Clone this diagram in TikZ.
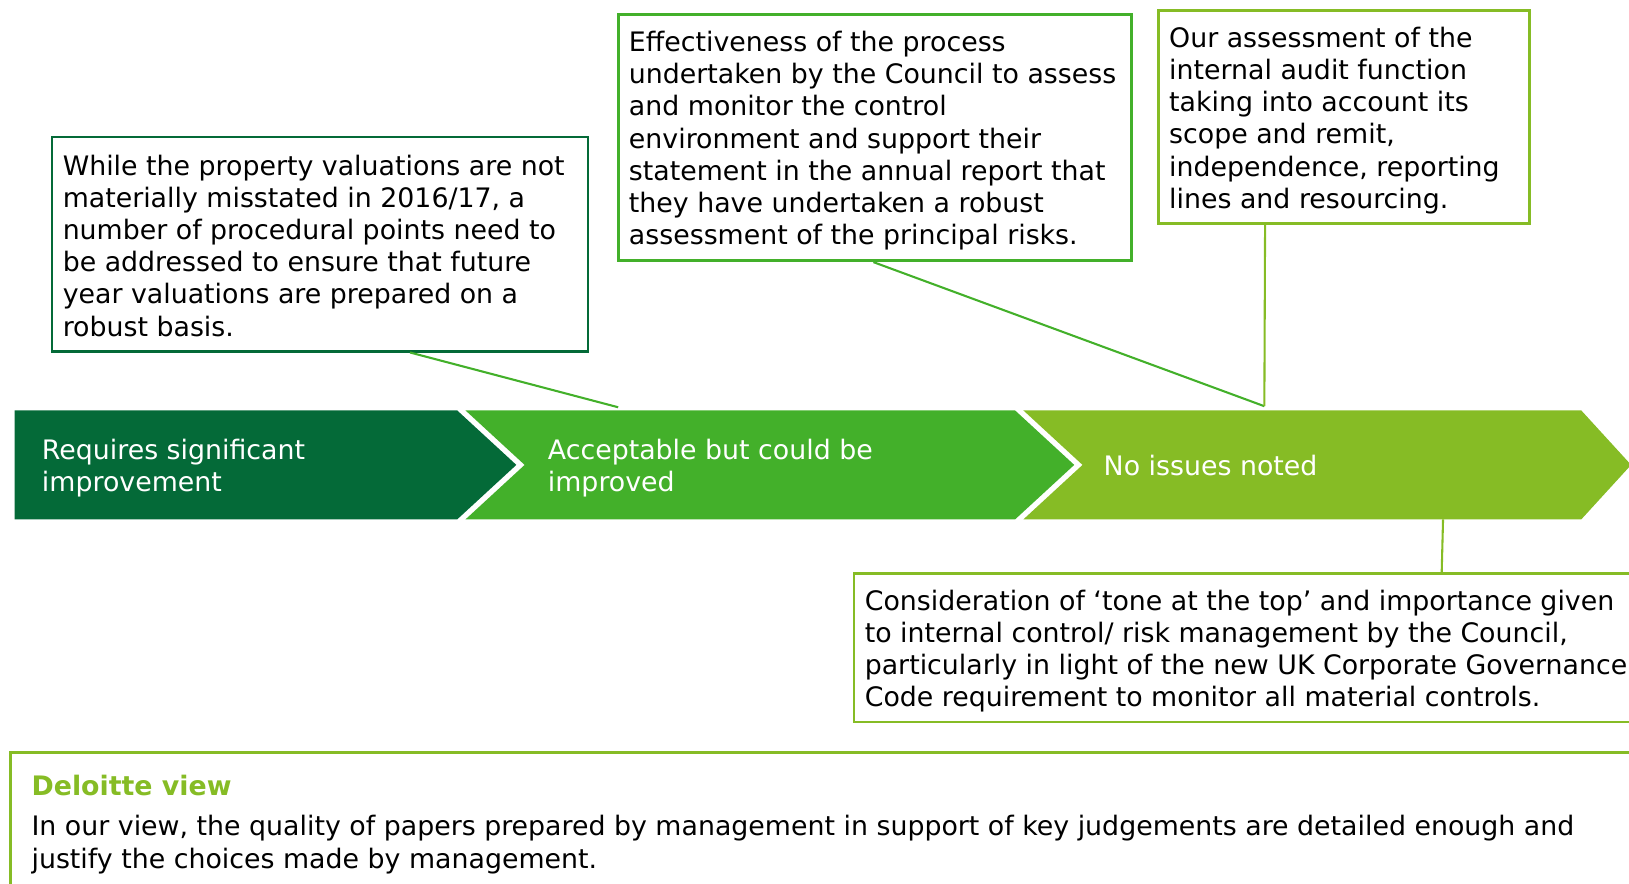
\documentclass[tikz,border=0pt]{standalone}
\usepackage{fontspec}
\setmainfont{DejaVu Sans}
\usetikzlibrary{positioning,calc,fit}
\definecolor{dgreen}{HTML}{046A38}
\definecolor{mgreen}{HTML}{43B02A}
\definecolor{lgreen}{HTML}{86BC25}
\tikzset{
  frame/.style={draw=#1, line width=1.3pt, inner sep=0pt},
  txt/.style={anchor=north west, align=left, inner sep=0pt, font=\fontsize{12.9}{15.5}\selectfont},
  chevtxt/.style={txt, text=white},
  link/.style={draw=#1, line width=1pt},
}

\begin{document}
\begin{tikzpicture}[x=0.5pt,y=-0.5pt]
  \useasboundingbox (0,0) rectangle (1568,850);

  % chevrons
  \fill[dgreen] (14,395) -- (440,395) -- (497,447.5) -- (440,500) -- (14,500) -- cycle;
  \fill[mgreen] (448,395) -- (977,395) -- (1034,447.5) -- (977,500) -- (448,500) -- (505,447.5) -- cycle;
  \fill[lgreen] (985,395) -- (1522,395) -- (1570,447.5) -- (1522,500) -- (985,500) -- (1042,447.5) -- cycle;

  \node[chevtxt] (req) at (40,422.5) {Requires significant\\improvement};
  \node[chevtxt] (acc) at (527,422.5) {Acceptable but could be\\improved};
  \node[chevtxt] (noiss) at (1062,437.5) {No issues noted};

  % boxes
  \node[frame=dgreen, fit={(50,132) (566,338)}] (valbox) {};
  \node[frame=mgreen, fit={(595,14) (1089,251)}] (procbox) {};
  \node[frame=lgreen, fit={(1115,10) (1472,215)}] (iabox) {};
  \node[frame=lgreen, fit={(822,552) (1600,695)}] (tonebox) {};
  \node[frame=lgreen, fit={(10,724) (1600,880)}] (viewbox) {};

  \node[txt] (valtxt) at (60,148.5) {While the property valuations are not\\materially misstated in 2016/17, a\\number of procedural points need to\\be addressed to ensure that future\\year valuations are prepared on a\\robust basis.};
  \node[txt] (proctxt) at (605,29.5) {Effectiveness of the process\\undertaken by the Council to assess\\and monitor the control\\environment and support their\\statement in the annual report that\\they have undertaken a robust\\assessment of the principal risks.};
  \node[txt] (iatxt) at (1125,25.5) {Our assessment of the\\internal audit function\\taking into account its\\scope and remit,\\independence, reporting\\lines and resourcing.};
  \node[txt] (tonetxt) at (832,567.5) {Consideration of ‘tone at the top’ and importance given\\to internal control/ risk management by the Council,\\particularly in light of the new UK Corporate Governance\\Code requirement to monitor all material controls.};
  \node[txt, text=lgreen, font=\fontsize{12.9}{15.5}\selectfont\bfseries] (viewhead) at (30,745.5) {Deloitte view};
  \node[txt] (viewtxt) at (30,784.5) {In our view, the quality of papers prepared by management in support of key judgements are detailed enough and\\justify the choices made by management.};

  % links
  \coordinate (accpt) at (595,392);
  \coordinate (nopt) at (1217,391);
  \draw[link=mgreen] ($(valbox.south west)+(346,0)$) -- (accpt);
  \draw[link=mgreen] ($(procbox.south west)+(247,0)$) -- (nopt);
  \draw[link=lgreen] ($(iabox.south west)+(104,0)$) -- (nopt);
  \draw[link=lgreen] (1389,500) -- ($(tonebox.north west)+(567,0)$);
\end{tikzpicture}
\end{document}
